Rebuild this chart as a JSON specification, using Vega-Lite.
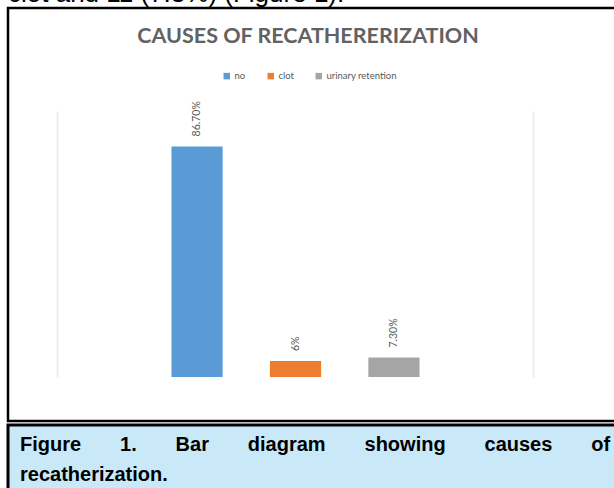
{
  "$schema": "https://vega.github.io/schema/vega-lite/v6.json",
  "autosize": "pad",
  "padding": {"left": 6, "top": -20, "right": 0, "bottom": 0},
  "background": "white",
  "spacing": 0,
  "title": {
    "text": "clot and 11 (7.3%) (Figure 1).",
    "anchor": "start",
    "font": "Liberation Sans",
    "fontSize": 26,
    "fontWeight": "normal",
    "color": "black",
    "baseline": "alphabetic",
    "offset": -21,
    "frame": "group"
  },
  "vconcat": [
    {
      "width": 612,
      "height": 413,
      "view": {"stroke": "black", "strokeWidth": 2.5, "fill": "white"},
      "title": {
        "text": "CAUSES OF RECATHERERIZATION",
        "font": "Lato",
        "fontSize": 21.5,
        "fontWeight": "bold",
        "color": "#626262",
        "anchor": "middle",
        "baseline": "alphabetic",
        "offset": -56,
        "dx": -6,
        "frame": "group"
      },
      "data": {
        "values": [
          {"cause": "no", "percent": 86.7, "label": "86.70%"},
          {"cause": "clot", "percent": 6, "label": "6%"},
          {"cause": "urinary retention", "percent": 7.3, "label": "7.30%"}
        ]
      },
      "encoding": {
        "x": {
          "field": "cause",
          "type": "nominal",
          "sort": null,
          "scale": {"range": [65, 510], "paddingInner": 0.48, "paddingOuter": 1},
          "axis": null
        }
      },
      "layer": [
        {
          "mark": {"type": "bar"},
          "encoding": {
            "y": {
              "field": "percent",
              "type": "quantitative",
              "scale": {"domain": [0, 100], "range": [369, 103]},
              "axis": {"orient": "left", "offset": -49, "domain": true, "domainColor": "#e8e8e8", "domainWidth": 1.5, "ticks": false, "labels": false, "grid": false, "title": null}
            },
            "color": {
              "field": "cause",
              "type": "nominal",
              "sort": null,
              "scale": {"domain": ["no", "clot", "urinary retention"], "range": ["#5b9bd5", "#ed7d31", "#a5a5a5"]},
              "legend": {
                "orient": "none",
                "legendX": 214,
                "legendY": 63,
                "direction": "horizontal",
                "title": null,
                "symbolType": "square",
                "symbolSize": 42,
                "symbolStrokeWidth": 0,
                "labelFontSize": 9.5,
                "labelColor": "#595959",
                "labelFont": "Lato",
                "labelOffset": 3,
                "columnPadding": 20
              }
            }
          }
        },
        {
          "mark": {"type": "text", "angle": 270, "align": "left", "baseline": "middle", "dx": 10, "fontSize": 10.5, "font": "Lato", "color": "#595959"},
          "encoding": {
            "y": {
              "field": "percent",
              "type": "quantitative",
              "axis": {"orient": "right", "offset": -87, "domain": true, "domainColor": "#e8e8e8", "domainWidth": 1.5, "ticks": false, "labels": false, "grid": false, "title": null}
            },
            "text": {"field": "label"}
          }
        }
      ],
      "resolve": {"axis": {"y": "independent"}}
    },
    {
      "width": 612,
      "height": 70,
      "view": {"stroke": "black", "strokeWidth": 3, "fill": "#c9e9f9"},
      "data": {
        "values": [
          {"line": 1, "text": "Figure\u00a0\u00a0\u00a0\u00a0\u00a0\u00a0\u00a01.\u00a0\u00a0\u00a0\u00a0\u00a0\u00a0\u00a0Bar\u00a0\u00a0\u00a0\u00a0\u00a0\u00a0\u00a0diagram\u00a0\u00a0\u00a0\u00a0\u00a0\u00a0\u00a0showing\u00a0\u00a0\u00a0\u00a0\u00a0\u00a0\u00a0causes\u00a0\u00a0\u00a0\u00a0\u00a0\u00a0\u00a0of"},
          {"line": 2, "text": "recatherization."}
        ]
      },
      "mark": {"type": "text", "align": "left", "baseline": "middle", "font": "Liberation Sans", "fontSize": 20, "fontWeight": "bold", "color": "black", "dx": 12},
      "encoding": {
        "x": {"datum": 0, "type": "quantitative", "scale": {"domain": [0, 1]}, "axis": null},
        "y": {"field": "line", "type": "ordinal", "scale": {"padding": 0.7}, "axis": null},
        "text": {"field": "text"}
      }
    }
  ]
}
